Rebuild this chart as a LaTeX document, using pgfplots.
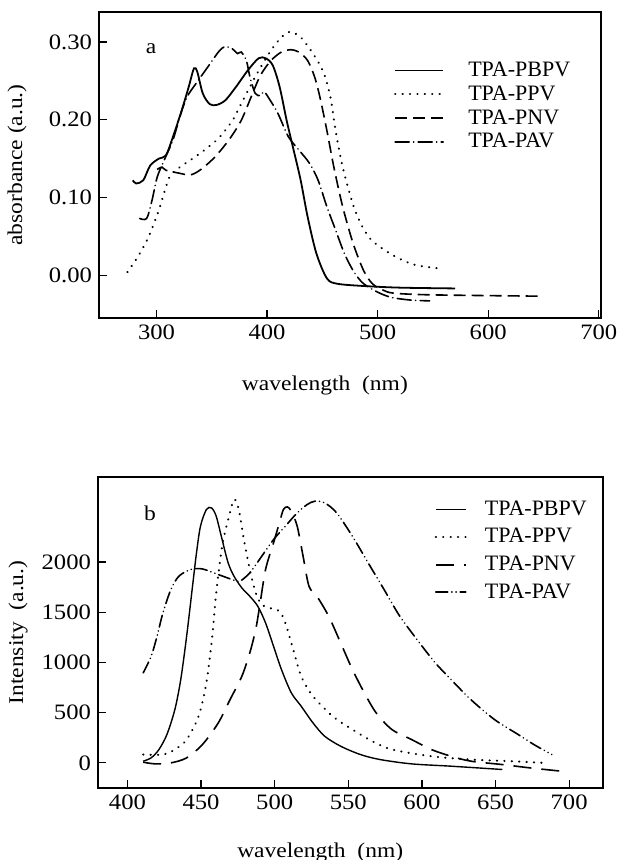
\documentclass[border=0pt]{standalone}
\usepackage{fontspec}
\setmainfont{Liberation Serif}[FakeStretch=1.12]
\newfontfamily\legfont{Liberation Serif}
\usepackage{pgfplots}
\pgfplotsset{compat=1.18}

% absorption spectra (a)
\pgfplotstableread{
nm abs
278.5 0.122
281.6 0.118
288 0.122
294.3 0.141
302.2 0.150
308.5 0.154
314.9 0.178
322.8 0.212
329.1 0.242
333.9 0.266
337 0.261
341.8 0.234
348.1 0.220
354.4 0.219
362.3 0.225
371.8 0.242
382.9 0.264
392.4 0.279
398.7 0.279
405.1 0.270
411.4 0.242
417.7 0.199
424 0.161
430.4 0.122
436.7 0.075
444.6 0.028
454.1 -0.004
463.6 -0.011
488.9 -0.014
520.6 -0.016
570 -0.017
}\absPBPV
\pgfplotstableread{
nm abs
273.7 0.004
283.2 0.024
292.7 0.049
302.2 0.084
311.7 0.126
321.2 0.139
330.7 0.148
343.4 0.161
356 0.176
368.7 0.199
378.2 0.225
390.8 0.259
403.5 0.289
413 0.306
420.9 0.313
430.4 0.306
441.5 0.285
451 0.261
457.3 0.229
462 0.186
468.4 0.139
479.4 0.084
492.1 0.049
511 0.028
532 0.014
554 0.009
}\absPPV
\pgfplotstableread{
nm abs
300.6 0.136
305 0.139
308.5 0.135
321.2 0.131
330.7 0.129
340.2 0.136
352.8 0.152
365.5 0.174
376.6 0.199
386.1 0.231
394 0.257
403.5 0.276
413 0.287
420.9 0.290
428.8 0.287
436.7 0.276
443 0.255
447.8 0.229
454.1 0.186
460.4 0.139
468.4 0.088
477.8 0.041
487.3 0.006
495.3 -0.011
504.7 -0.019
514 -0.023
541 -0.025
586 -0.026
650 -0.027
}\absPNV
\pgfplotstableread{
nm abs
284.8 0.073
291.1 0.073
295.9 0.096
300.6 0.126
307 0.148
314.9 0.174
321.2 0.204
327.5 0.229
337 0.249
346.5 0.268
356 0.287
361.7 0.294
368.7 0.291
373.4 0.285
376.6 0.287
381.3 0.276
384.5 0.255
389.2 0.234
394 0.231
397.2 0.236
401.9 0.227
409.8 0.208
419.3 0.178
428.8 0.161
438.3 0.144
446.2 0.122
454.1 0.088
462 0.058
469.9 0.028
477.8 0.006
485.8 -0.009
495 -0.018
505 -0.025
514 -0.029
530 -0.032
547 -0.033
}\absPAV

% emission spectra (b)
\pgfplotstableread{
nm I
410.7 17
416.1 50
421.4 133
426.8 282
432.2 531
436.2 829
440.2 1260
444.2 1758
446.9 2090
449.6 2355
453.6 2521
457.1 2537
460.3 2454
464.3 2222
468.4 1990
472.4 1857
477.7 1741
483.1 1658
488.5 1559
493.8 1393
499.2 1161
504.6 929
511.3 697
518 564
526 398
534 265
544.8 166
558.2 83
571.6 33
593 -10
619.8 -33
654.7 -66
}\plPBPV
\pgfplotstableread{
nm I
410.7 83
424.1 83
432.2 133
440.2 232
448.3 464
453.6 796
457.6 1260
460.3 1692
464.3 2156
468.4 2421
472.4 2620
475.6 2521
479.1 2222
483.1 1924
487.1 1692
491.2 1575
496.5 1542
503.2 1509
507.2 1393
512.6 1128
518 862
526 663
539.4 464
552.8 332
566.2 216
579.6 133
606.4 66
633.2 33
660 17
682.8 0
}\plPPV
\pgfplotstableread{
nm I
410.7 7
418.8 -10
429.5 0
440.2 50
450.9 182
461.7 398
469.7 630
477.7 862
483.1 1095
487.1 1327
489.8 1559
493.8 1924
499.2 2189
503.2 2388
505.9 2521
508.6 2547
511.3 2504
515.3 2355
519.3 2056
523.3 1758
528.7 1658
536.7 1459
544.8 1194
552.8 929
560.9 697
568.9 498
579.6 332
593 232
606.4 133
619.8 66
633.2 17
654.7 -17
673.5 -50
694.9 -83
}\plPNV
\pgfplotstableread{
nm I
410.7 896
416.1 1061
420.1 1260
424.1 1493
429.5 1725
434.9 1857
442.9 1924
450.9 1930
461.7 1874
472.4 1818
476.4 1808
483.1 1891
491.2 2056
499.2 2222
507.2 2355
515.3 2488
522 2570
527.3 2604
534 2587
542.1 2488
552.8 2255
563.5 1990
574.3 1725
585 1459
598.4 1194
609.1 995
619.8 829
633.2 630
649.3 431
665.4 282
676.1 182
688.2 83
}\plPAV

\begin{document}
\begin{tikzpicture}
\useasboundingbox (0pt,0pt) rectangle (308pt,430pt);
\pgfplotsset{
  every axis/.append style={
    scale only axis, anchor=south west,
    axis line style={line width=0.8pt},
    tick align=inside, xtick pos=bottom, ytick pos=left,
    major tick length=4pt, tick style={line width=0.6pt,black},
    /pgf/number format/assume math mode=true,
    /pgf/number format/1000 sep={},
    tick label style={font=\fontsize{11}{13}\selectfont},
    label style={font=\fontsize{10.5}{12}\selectfont},
    legend cell align=left,
    legend style={draw=none,fill=none,font=\legfont\fontsize{11}{13}\selectfont,anchor=north west},
  },
}
% (a) absorbance
\begin{axis}[
  at={(49.5pt,271pt)}, width=251pt, height=153pt,
  xmin=248, xmax=702, ymin=-0.055, ymax=0.3385,
  xtick={300,400,500,600,700}, ytick={0,0.1,0.2,0.3},
  yticklabel style={/pgf/number format/.cd,fixed,fixed zerofill,precision=2},
  xlabel={wavelength\ \ (nm)}, ylabel={absorbance (a.u.)},
  xlabel style={at={(axis description cs:0.45,-0.219)},anchor=center},
  ylabel style={at={(axis description cs:-0.163,0.5)},anchor=center},
  legend image code/.code={\draw[#1] (0pt,0pt) -- (24pt,0pt); \path (34pt,0pt);},
  legend style={at={(0.575,0.865)},row sep=-0.8pt},
]
\addplot[black,line width=0.9pt,smooth,tension=0.5] table[x=nm,y=abs] {\absPBPV};
\addplot[black,line width=1.1pt,line cap=round,dash pattern=on 0.1pt off 3.6pt,smooth,tension=0.5] table[x=nm,y=abs] {\absPPV};
\addplot[black,line width=0.8pt,dash pattern=on 6pt off 3pt,smooth,tension=0.5] table[x=nm,y=abs] {\absPNV};
\addplot[black,line width=0.8pt,line cap=round,dash pattern=on 7pt off 2.2pt on 0.1pt off 2.2pt,smooth,tension=0.5] table[x=nm,y=abs] {\absPAV};
\legend{TPA-PBPV,TPA-PPV,TPA-PNV,TPA-PAV}
\node[font=\fontsize{10.5}{12}\selectfont] at (rel axis cs:0.104,0.88) {a};
\end{axis}
% (b) photoluminescence
\begin{axis}[
  at={(49pt,36pt)}, width=252.5pt, height=155.5pt,
  xmin=380, xmax=723, ymin=-250, ymax=2845,
  xtick={400,450,...,700}, ytick={0,500,1000,1500,2000},
  xlabel={wavelength\ \ (nm)}, ylabel={Intensity\ \ (a.u.)},
  xlabel style={at={(axis description cs:0.44,-0.206)},anchor=center},
  ylabel style={at={(axis description cs:-0.158,0.5)},anchor=center},
  legend image code/.code={\draw[#1] (0pt,0pt) -- (15pt,0pt); \path (22pt,0pt);},
  legend style={at={(0.654,0.95)},row sep=1pt},
]
\addplot[black,line width=0.7pt,smooth,tension=0.5] table[x=nm,y=I] {\plPBPV};
\addplot[black,line width=1.1pt,line cap=round,dash pattern=on 0.1pt off 3.6pt,smooth,tension=0.5] table[x=nm,y=I] {\plPPV};
\addplot[black,line width=0.8pt,dash pattern=on 9pt off 5pt,smooth,tension=0.5] table[x=nm,y=I] {\plPNV};
\addplot[black,line width=0.8pt,line cap=round,dash pattern=on 6pt off 2pt on 0.1pt off 2pt on 0.1pt off 2pt,smooth,tension=0.5] table[x=nm,y=I] {\plPAV};
\legend{TPA-PBPV,TPA-PPV,TPA-PNV,TPA-PAV}
\node[font=\fontsize{10.5}{12}\selectfont] at (rel axis cs:0.103,0.884) {b};
\end{axis}
\end{tikzpicture}
\end{document}
